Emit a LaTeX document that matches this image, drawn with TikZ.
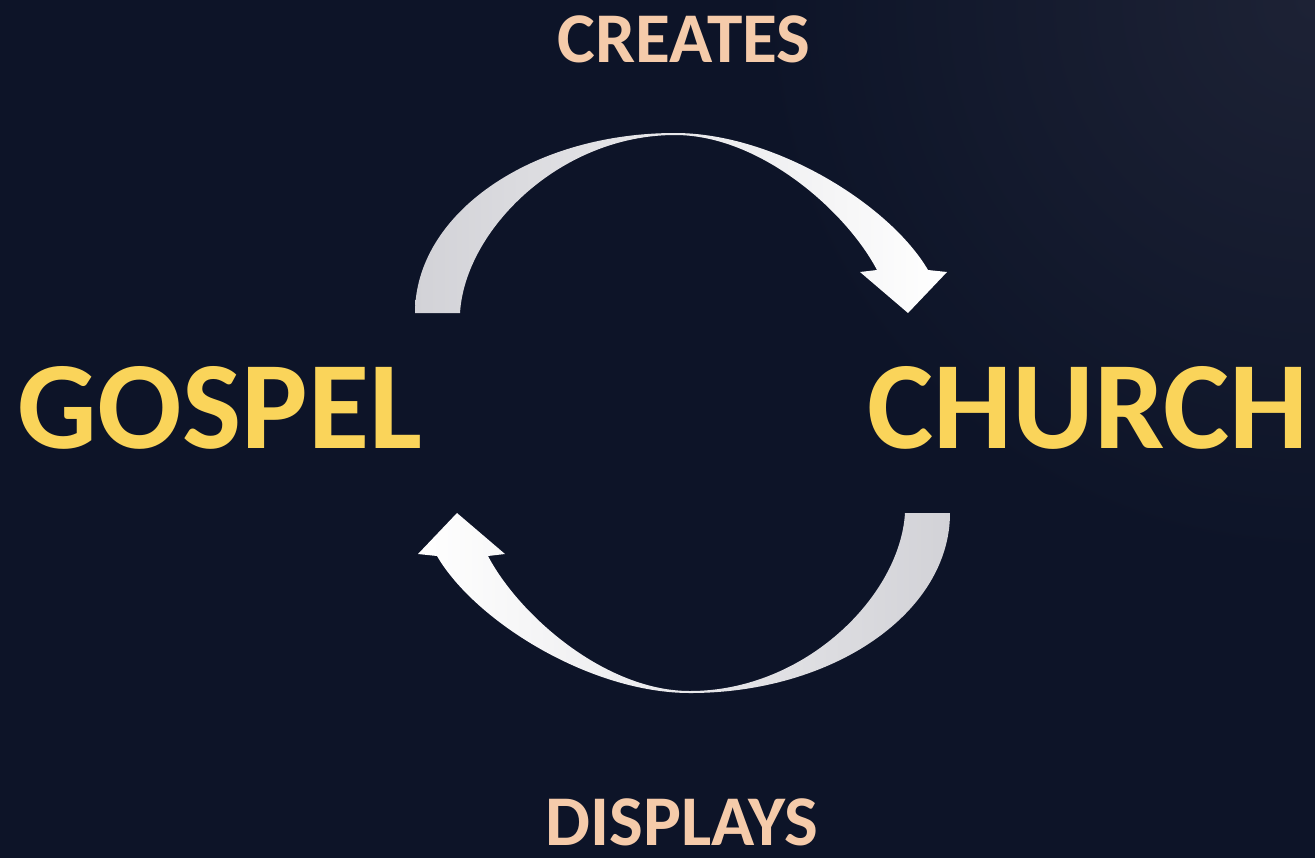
\documentclass[tikz,border=0pt]{standalone}
\usepackage{fontspec}
\setmainfont{Carlito}

\definecolor{bgnavy}{HTML}{0D1428}
\definecolor{bgglow}{HTML}{1D2235}
\definecolor{wordyellow}{HTML}{FAD45A}
\definecolor{verbpeach}{HTML}{F5CBAA}
\definecolor{arrowgray}{HTML}{D2D2D7}

\tikzset{
    bigword/.style={inner sep=0pt, text=wordyellow, font=\bfseries\fontsize{35.6}{40}\selectfont},
    verbword/.style={inner sep=0pt, text=verbpeach, font=\bfseries\fontsize{20.3}{24}\selectfont}
}

\begin{document}
\begin{tikzpicture}[x=0.1mm, y=0.1mm]
    \fill[bgnavy] (0,0) rectangle (1315,858);
    \begin{scope}
        \clip (0,0) rectangle (1315,858);
        \shade[inner color=bgglow, outer color=bgnavy] (1315,858) circle (560);
    \end{scope}
    \useasboundingbox (0,0) rectangle (1315,858);

    \node[bigword] (gospel) at (220,450) {GOSPEL};
    \node[bigword] (church) at (1088,450) {CHURCH};
    \node[verbword] (creates) at (684,819) {CREATES};
    \node[verbword] (displays) at (682,36) {DISPLAYS};

    \shade[left color=arrowgray, right color=white]
        (415,545) .. controls (415,644.4) and (531.4,725) .. (675,725)
        .. controls (775,725) and (890,653) .. (928,588)
        -- (947,586) -- (908,545) -- (860,586) -- (877,588)
        .. controls (846,647) and (760,723) .. (675,723)
        .. controls (560,723) and (465,628) .. (460,545) -- cycle;
    \shade[left color=white, right color=arrowgray]
        (950,345) .. controls (950,245.6) and (833.6,165) .. (690,165)
        .. controls (590,165) and (475,237) .. (437,302)
        -- (418,304) -- (457,345) -- (505,304) -- (488,302)
        .. controls (519,243) and (605,167) .. (690,167)
        .. controls (805,167) and (900,262) .. (905,345) -- cycle;
\end{tikzpicture}
\end{document}
